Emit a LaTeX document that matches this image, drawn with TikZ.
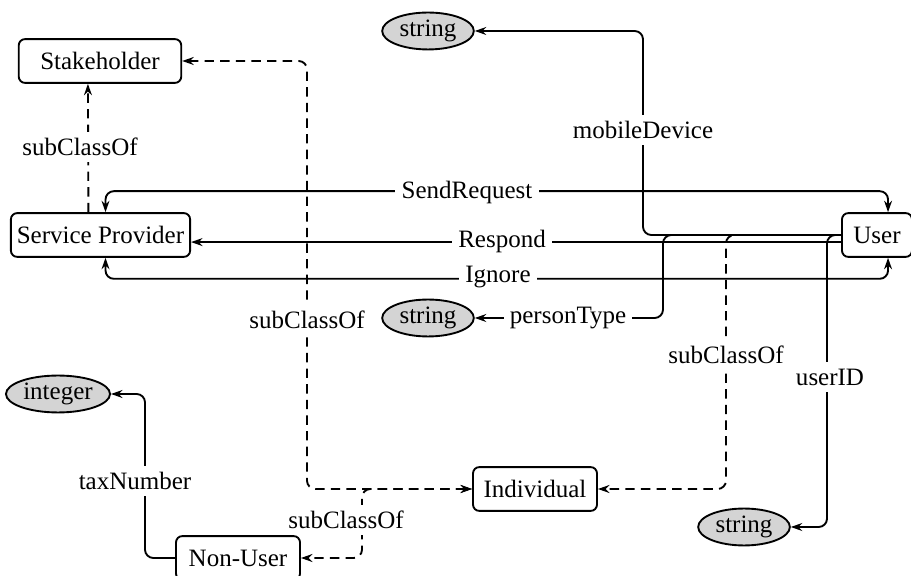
\documentclass[tikz,border=0pt]{standalone}
\usepackage{fontspec}
\setmainfont{Liberation Serif}
\usetikzlibrary{arrows.meta}
\tikzset{>={Stealth[length=5.5pt,width=3.8pt]}}
\usetikzlibrary{shapes,positioning}
\colorlet{background}{white}
\colorlet{typeColor}{black!17}
\tikzset{
	cls/.style={draw,line width=.9pt,rounded corners=3pt,minimum height=21pt,inner sep=2pt},
	dtype/.style={draw,ellipse,line width=.9pt,fill=typeColor,minimum height=16pt,minimum width=44pt,inner sep=1pt},
	lbl/.style={fill=background,inner sep=3pt},
	rel/.style={line width=.9pt,rounded corners=4pt},
	sub/.style={rel,dash pattern=on 4.5pt off 3pt}
}

\begin{document}
\begin{tikzpicture}[x=.48pt,y=-.48pt,font=\fontsize{12}{14}\selectfont]
				\useasboundingbox (0,0) rectangle (911,576);
				\node[cls,minimum width=78pt] (stake) at (100,61) {Stakeholder};
				\node[cls,minimum width=86pt] (sp) at (100.5,235) {Service Provider};
				\node[cls,minimum width=33.6pt] (user) at (877,235) {User};
				\node[cls,minimum width=59.5pt] (indiv) at (535,489) {Individual};
				\node[cls,minimum width=59.5pt] (nonuser) at (238,558) {Non-User};
				\node[dtype] (str1) at (428,31) {string};
				\node[dtype] (str2) at (428,318) {string};
				\node[dtype] (str3) at (744,527) {string};
				\node[dtype,minimum width=46pt] (int) at (58,394) {integer};
				\coordinate (k1) at (307,61);
				\coordinate (k2) at (362,558);
				\coordinate (k3) at (643,31);
				\coordinate (k4) at (663,318);
				\coordinate (k5) at (726,489);
				\coordinate (k6) at (827,527);
				\coordinate (k7) at (145,394);
				\draw[sub,->] ([xshift=-5.8pt]sp.north) -- ([xshift=-5.8pt]stake.south);
				\draw[sub,<->] (indiv.west) -| (k1) -- (stake.east);
				\draw[sub,<->] (indiv.west) -| (k2) -- (nonuser.east);
				\draw[sub,->] (user.west) -| (k5) -- (indiv.east);
				\draw[rel,<->] ([xshift=2.4pt]sp.north) -- ++(0,-21) -| ([xshift=5.3pt]user.north);
				\draw[rel,->] ([yshift=-3.4pt]user.west) -- ([yshift=-3.4pt]sp.east);
				\draw[rel,<->] ([xshift=2.4pt]sp.south) -- ++(0,21) -| ([xshift=5.3pt]user.south);
				\draw[rel,->] (user.west) -| (k3) -- (str1.east);
				\draw[rel,->] (user.west) -| (k4) -- (str2.east);
				\draw[rel,->] (user.west) -| (k6) -- (str3.east);
				\draw[rel,->] (nonuser.west) -| (k7) -- (int.east);
				\node[lbl] (lsub1) at (80,147) {subClassOf};
				\node[lbl] (lsub2) at (307,320) {subClassOf};
				\node[lbl] (lsub3) at (346,520) {subClassOf};
				\node[lbl] (lsub4) at (726,355) {subClassOf};
				\node[lbl] (lmobile) at (643,130) {mobileDevice};
				\node[lbl] (lperson) at (568,318) {personType};
				\node[lbl] (luserid) at (830,377) {userID};
				\node[lbl] (ltax) at (135,481) {taxNumber};
				\node[lbl] (lsend) at (467,192) {SendRequest};
				\node[lbl] (lresp) at (502,241) {Respond};
				\node[lbl] (lign) at (498,277) {Ignore};
\end{tikzpicture}
\end{document}
